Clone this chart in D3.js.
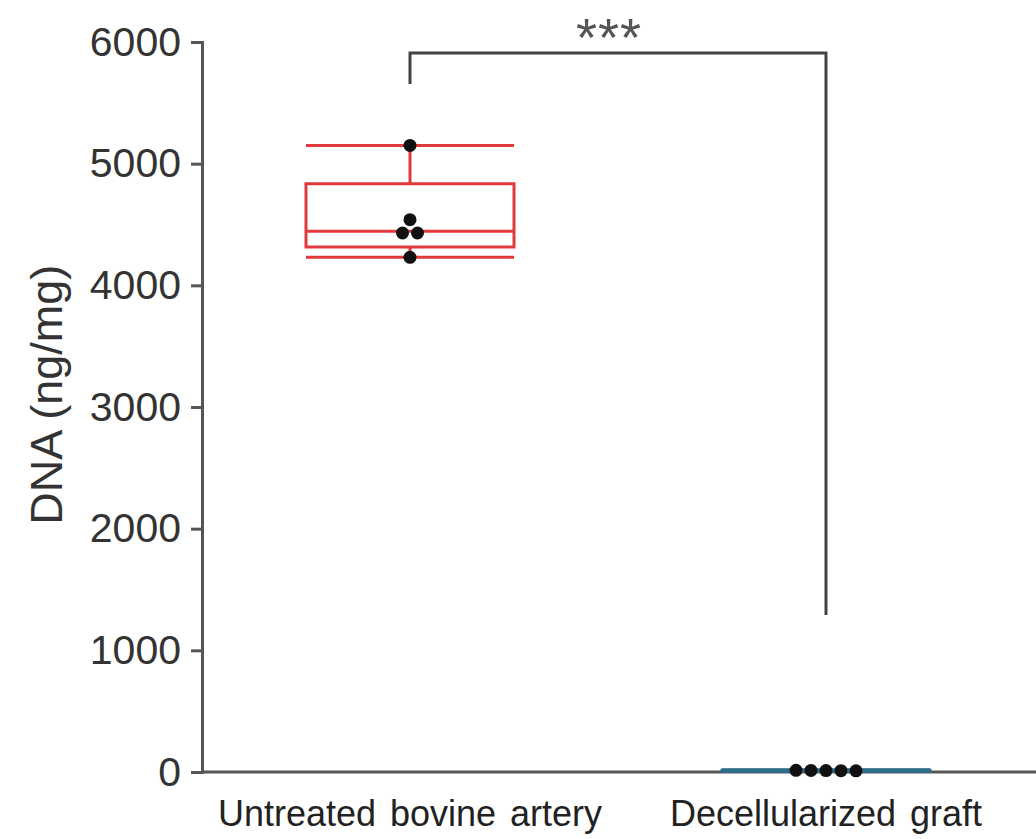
<!DOCTYPE html>
<html>
<head>
<meta charset="utf-8">
<script src="https://cdn.jsdelivr.net/npm/d3@7"></script>
<style>
  body { margin: 0; background: #fff; }
  text { font-family: "Liberation Sans", Arial, sans-serif; }
</style>
</head>
<body>
<script>
var categories = ["Untreated bovine artery", "Decellularized graft"];
var groupValues = [ // individual DNA measurements per group (ng/mg)
	[5150, 4540, 4430, 4430, 4230],
	[12, 10, 14, 11, 13]];
var boxStats = [ // min, q1, median, q3, max
	{ "min": 4230, "q1": 4315, "median": 4445, "q3": 4835, "max": 5150, "color": "#e0393b" },
	{ "min": 5, "q1": 8, "median": 12, "q3": 15, "max": 18, "color": "#2e6e8a" }];
var yTicks = [0, 1000, 2000, 3000, 4000, 5000, 6000];
var bracket = { "from": 0, "to": 1, "top": 5910, "leftEnd": 5655, "rightEnd": 1290, "label": "***" };

var width = 1036, height = 839;
var svg = d3.select("body").append("svg")
	.attr("width", width)
	.attr("height", height);

var x = d3.scaleBand() //one band per group
	.domain(categories)
	.range([202, 1034])
	.padding(0);

var y = d3.scaleLinear()
	.domain([0, 6000])
	.range([772, 42]);

var axisColor = "#555";

// y axis
var yAxis = svg.append("g")
	.attr("transform", "translate(202,0)")
	.call(d3.axisLeft(y).tickValues(yTicks).tickSize(11).tickPadding(10).tickFormat(d3.format("d")));
yAxis.select(".domain").attr("stroke", axisColor).attr("stroke-width", 3);
yAxis.selectAll(".tick line").attr("stroke", axisColor).attr("stroke-width", 3);
yAxis.selectAll(".tick text")
	.attr("fill", "#333")
	.style("font-size", "41px");

// x axis (line only, labels below)
var xAxis = svg.append("g")
	.attr("transform", "translate(0,772)")
	.call(d3.axisBottom(x).tickSize(0).tickPadding(28));
xAxis.select(".domain").attr("stroke", axisColor).attr("stroke-width", 3)
	.attr("d", "M202,0H1036");
xAxis.selectAll(".tick text")
	.attr("fill", "#222")
	.style("font-size", "36px")
	.style("word-spacing", "4px");

// y label
svg.append("text")
	.attr("transform", "translate(62," + y(3100) + ") rotate(-90)")
	.attr("text-anchor", "middle")
	.attr("fill", "#333")
	.style("font-size", "45px")
	.text("DNA (ng/mg)");

// boxes
var boxW = x.bandwidth() * 0.5;
var boxes = svg.selectAll("g.box")
	.data(boxStats)
	.enter()
	.append("g")
	.attr("class", "box");

boxes.each(function (d, i) {
	var g = d3.select(this);
	var cx = x(categories[i]) + x.bandwidth() / 2;
	var x0 = cx - boxW / 2, x1 = cx + boxW / 2;
	var sw = 3;
	g.append("line") //upper whisker stem
		.attr("x1", cx).attr("x2", cx)
		.attr("y1", y(d.max)).attr("y2", y(d.q3))
		.attr("stroke", d.color).attr("stroke-width", sw);
	g.append("line") //lower whisker stem
		.attr("x1", cx).attr("x2", cx)
		.attr("y1", y(d.q1)).attr("y2", y(d.min))
		.attr("stroke", d.color).attr("stroke-width", sw);
	g.append("rect")
		.attr("x", x0).attr("y", y(d.q3))
		.attr("width", boxW).attr("height", Math.max(0, y(d.q1) - y(d.q3)))
		.attr("fill", "none").attr("stroke", d.color).attr("stroke-width", sw);
	[d.min, d.median, d.max].forEach(function (v) {
		g.append("line")
			.attr("x1", x0).attr("x2", x1)
			.attr("y1", y(v)).attr("y2", y(v))
			.attr("stroke", d.color).attr("stroke-width", sw);
	});
});

// points, spread sideways where they overlap
var r = 6.5, spread = 15;
groupValues.forEach(function (vals, i) {
	var cx = x(categories[i]) + x.bandwidth() / 2;
	var pts = vals.map(function (v) { return { v: v, py: y(v) }; })
		.sort(function (a, b) { return a.py - b.py; });
	var clusters = [];
	pts.forEach(function (p) {
		var c = clusters[clusters.length - 1];
		if (c && Math.abs(p.py - c[0].py) < 4) c.push(p);
		else clusters.push([p]);
	});
	clusters.forEach(function (c) {
		c.forEach(function (p, k) {
			p.px = cx + (k - (c.length - 1) / 2) * spread;
		});
	});
	svg.selectAll(null)
		.data(pts)
		.enter()
		.append("circle")
		.attr("cx", function (d) { return d.px; })
		.attr("cy", function (d) { return d.py; })
		.attr("r", r)
		.style("fill", "#111");
});

// significance bracket
var bx0 = x(categories[bracket.from]) + x.bandwidth() / 2;
var bx1 = x(categories[bracket.to]) + x.bandwidth() / 2;
svg.append("path")
	.attr("d", "M" + bx0 + "," + y(bracket.leftEnd) + "V" + y(bracket.top) + "H" + bx1 + "V" + y(bracket.rightEnd))
	.attr("fill", "none")
	.attr("stroke", "#444")
	.attr("stroke-width", 3);
svg.append("text")
	.attr("x", (bx0 + bx1) / 2 - 9)
	.attr("y", y(bracket.top) + 3)
	.attr("text-anchor", "middle")
	.attr("fill", "#555")
	.style("font-size", "54px")
	.style("letter-spacing", "1px")
	.text(bracket.label);
</script>
</body>
</html>
